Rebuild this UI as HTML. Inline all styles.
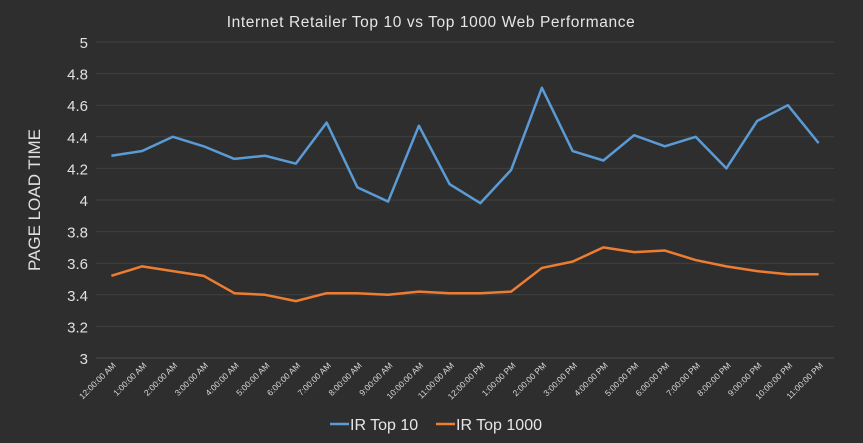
<!DOCTYPE html>
<html><head><meta charset="utf-8"><style>
html,body{margin:0;padding:0;background:#2e2e2e;}
svg{display:block;font-family:"Liberation Sans",sans-serif;}
</style></head><body>
<svg id="chart" width="863" height="443">
<rect width="863" height="443" fill="#2e2e2e"/>
<text x="431" y="27" fill="#e6e6e6" font-size="15.5" text-anchor="middle" letter-spacing="0.6">Internet Retailer Top 10 vs Top 1000 Web Performance</text>
<text transform="translate(40,200) rotate(-90)" fill="#e0e0e0" font-size="17" text-anchor="middle">PAGE LOAD TIME</text>
<g id="grid"></g><g id="yticks"></g><g id="xticks"></g><g id="series"></g>
<g>
<line x1="330" y1="424" x2="349" y2="424" stroke="#5b9bd5" stroke-width="2.5"/>
<text x="350" y="430" fill="#e6e6e6" font-size="16">IR Top 10</text>
<line x1="436" y1="424" x2="455" y2="424" stroke="#ed7d31" stroke-width="2.5"/>
<text x="456" y="430" fill="#e6e6e6" font-size="16">IR Top 1000</text>
</g>
</svg>
<script>
const categories=["12:00:00 AM","1:00:00 AM","2:00:00 AM","3:00:00 AM","4:00:00 AM","5:00:00 AM","6:00:00 AM","7:00:00 AM","8:00:00 AM","9:00:00 AM","10:00:00 AM","11:00:00 AM","12:00:00 PM","1:00:00 PM","2:00:00 PM","3:00:00 PM","4:00:00 PM","5:00:00 PM","6:00:00 PM","7:00:00 PM","8:00:00 PM","9:00:00 PM","10:00:00 PM","11:00:00 PM"];
const top10=[4.28,4.31,4.40,4.34,4.26,4.28,4.23,4.49,4.08,3.99,4.47,4.10,3.98,4.19,4.71,4.31,4.25,4.41,4.34,4.40,4.20,4.50,4.60,4.36];
const top1000=[3.52,3.58,3.55,3.52,3.41,3.40,3.36,3.41,3.41,3.40,3.42,3.41,3.41,3.42,3.57,3.61,3.70,3.67,3.68,3.62,3.58,3.55,3.53,3.53];
const yTicks=[3,3.2,3.4,3.6,3.8,4,4.2,4.4,4.6,4.8,5];
const NS="http://www.w3.org/2000/svg";
const L=96,R=834,T=42,B=358,yMin=3,yMax=5;
const band=(R-L)/categories.length;
const xs=i=>L+band*(i+0.5);
const ys=v=>B-(v-yMin)/(yMax-yMin)*(B-T);
function mk(tag,attrs,parent){const e=document.createElementNS(NS,tag);for(const k in attrs)e.setAttribute(k,attrs[k]);document.getElementById(parent).appendChild(e);return e;}
yTicks.forEach(t=>{
 const g=mk('line',{x1:L,x2:R,y1:ys(t),y2:ys(t),stroke:t===3?'#4a4a4a':'#404040','stroke-width':1},'grid');
 
 
 const tx=mk('text',{x:88,y:ys(t)+6,fill:'#e0e0e0','font-size':15,'text-anchor':'end'},'yticks');
 tx.textContent=String(t);
 
 
});
categories.forEach((c,i)=>{
 const x=xs(i)+5,y=366;
 const tx=mk('text',{x:x,y:y,fill:'#d8d8d8','font-size':8.5,'text-anchor':'end',transform:`rotate(-45 ${x} ${y})`},'xticks');
 tx.textContent=c;
 
 
});
function line(vals,color,name){
 const p=mk('polyline',{points:vals.map((v,i)=>xs(i)+','+ys(v)).join(' '),fill:'none',stroke:color,'stroke-width':2.5,'stroke-linejoin':'round'},'series');
 
 
}
line(top1000,'#ed7d31','series-ir-top-1000');
line(top10,'#5b9bd5','series-ir-top-10');
</script>
</body></html>
